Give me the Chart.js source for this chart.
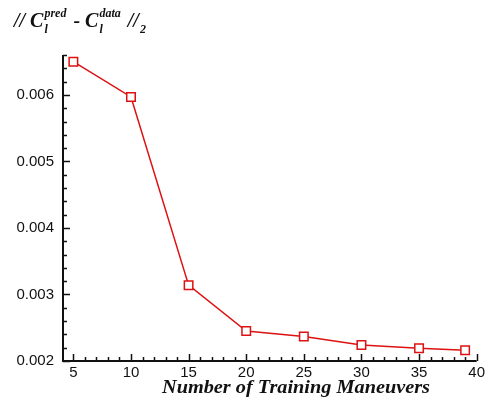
<!DOCTYPE html>
<html>
<head>
<meta charset="utf-8">
<script src="https://cdn.jsdelivr.net/npm/chart.js@4.4.1/dist/chart.umd.min.js"></script>
<style>
  html, body { margin: 0; padding: 0; background: #fff; }
  #wrap { width: 488px; height: 400px; }
</style>
</head>
<body>
<div id="wrap"><canvas id="chart" width="488" height="400"></canvas></div>
<script>
// training set size vs. lift coefficient error norm
const maneuvers = [5, 10, 15, 20, 25, 30, 35, 39];
const errorNorm = [0.0065, 0.00597, 0.00314, 0.00245, 0.00237, 0.00224, 0.00219, 0.00216];
const xTickLabels = [5, 10, 15, 20, 25, 30, 35, 40];
const yTickLabels = [0.002, 0.003, 0.004, 0.005, 0.006];

const RED = "#dd1111";
const serif = '"Liberation Serif", "Times New Roman", serif';
const sans = '"Liberation Sans", Arial, sans-serif';

const isMajorY = (v) => yTickLabels.some((t) => Math.abs(t - v) < 1e-9);
const isMajorX = (v) => xTickLabels.includes(v);

// inward tick marks, axis lines and the two titles
const axisDecor = {
  id: "axisDecor",
  afterDraw(chart) {
    const { ctx, chartArea: a, scales: { x, y } } = chart;
    ctx.save();
    ctx.strokeStyle = "#111";
    ctx.lineWidth = 1.5;
    ctx.beginPath();
    x.ticks.forEach((t) => {
      if (!Number.isInteger(t.value)) return;
      const px = Math.round(x.getPixelForValue(t.value)) + 0.5;
      const len = isMajorX(t.value) ? 7 : 4;
      ctx.moveTo(px, a.bottom);
      ctx.lineTo(px, a.bottom - len);
    });
    y.ticks.forEach((t) => {
      const py = Math.round(y.getPixelForValue(t.value)) + 0.5;
      const len = isMajorY(t.value) ? 7 : 4;
      ctx.moveTo(a.left, py);
      ctx.lineTo(a.left + len, py);
    });
    ctx.stroke();

    ctx.lineWidth = 2;
    ctx.beginPath();
    ctx.moveTo(a.left, a.top);
    ctx.lineTo(a.left, a.bottom);
    ctx.lineTo(a.right, a.bottom);
    ctx.stroke();

    ctx.fillStyle = "#111";
    ctx.textBaseline = "alphabetic";

    // x axis title, slightly widened serif
    const xTitle = "Number of Training Maneuvers";
    ctx.font = "bold italic 18px " + serif;
    ctx.textAlign = "center";
    const stretch = 268 / ctx.measureText(xTitle).width;
    ctx.save();
    ctx.translate(296, 392.5);
    ctx.scale(stretch, 1);
    ctx.fillText(xTitle, 0, 0);
    ctx.restore();

    // norm label at the top left
    ctx.textAlign = "left";
    const big = "bold italic 20px " + serif;
    const small = "bold italic 12px " + serif;
    let cx = 14;
    const base = 27;
    const put = (txt, font, dy) => {
      ctx.font = font;
      ctx.fillText(txt, cx, base + dy);
      return ctx.measureText(txt).width;
    };
    const coef = (sup) => {
      cx += put("C", big, 0) + 1;
      const w1 = put(sup, small, -10);
      put("l", small, 6);
      cx += w1 + 2;
    };
    cx += put("// ", big, 0);
    coef("pred");
    cx += put(" - ", big, 0);
    coef("data");
    cx += put(" //", big, 0) + 1;
    put("2", small, 6);
    ctx.restore();
  }
};

new Chart(document.getElementById("chart"), {
  type: "scatter",
  data: {
    datasets: [
      {
        data: maneuvers.map((m, i) => ({ x: m, y: errorNorm[i] })),
        showLine: true,
        borderColor: RED,
        borderWidth: 1.5,
        pointStyle: "rect",
        pointRadius: 6,
        pointBorderWidth: 1.5,
        pointBorderColor: RED,
        pointBackgroundColor: "#fff",
      },
    ],
  },
  options: {
    responsive: false,
    animation: false,
    layout: { padding: { top: 55, right: 11, left: 0, bottom: 0 } },
    plugins: { legend: { display: false }, tooltip: { enabled: false } },
    scales: {
      x: {
        type: "linear",
        min: 4.1,
        max: 40,
        grid: { display: false, drawTicks: false },
        border: { display: false },
        ticks: {
          stepSize: 1,
          includeBounds: false,
          autoSkip: false,
          maxRotation: 0,
          padding: 3,
          color: "#111",
          font: { family: sans, size: 15 },
          callback: (v) => (isMajorX(v) ? String(v) : ""),
        },
        afterFit: (s) => { s.height = 39; },
      },
      y: {
        min: 0.002,
        max: 0.0066,
        grid: { display: false, drawTicks: false },
        border: { display: false },
        ticks: {
          stepSize: 0.0002,
          autoSkip: false,
          padding: 9,
          color: "#111",
          font: { family: sans, size: 15 },
          callback: (v) => (isMajorY(v) ? v.toFixed(3) : ""),
        },
        afterFit: (s) => { s.width = 63; },
      },
    },
  },
  plugins: [axisDecor],
});
</script>
</body>
</html>
